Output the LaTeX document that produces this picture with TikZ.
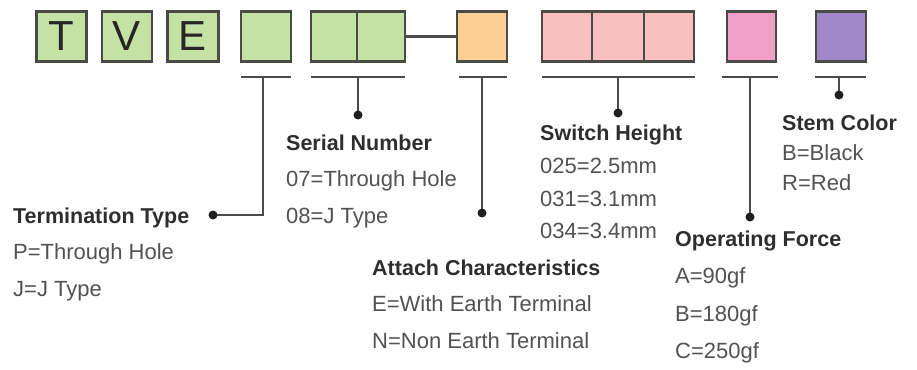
\documentclass[tikz,border=0pt]{standalone}
\usepackage{fontspec}
\setmainfont{Liberation Sans}
\definecolor{boxline}{RGB}{75,75,70}
\definecolor{leadgrey}{RGB}{75,75,75}
\definecolor{greenfill}{RGB}{196,226,164}
\definecolor{orangefill}{RGB}{251,208,146}
\definecolor{rosefill}{RGB}{248,192,192}
\definecolor{pinkfill}{RGB}{243,160,200}
\definecolor{violetfill}{RGB}{160,136,200}

\begin{document}
\begin{tikzpicture}[x=1pt,y=-1pt,
  keybox/.style={draw=boxline,line width=2.2pt,inner sep=0pt,minimum height=50pt,
    font=\fontsize{42}{42}\selectfont,text=black!85},
  leader/.style={draw=leadgrey,line width=2.4pt},
  head/.style={anchor=base west,inner sep=0pt,font=\bfseries\fontsize{21.5}{24}\selectfont,text=black!82},
  entry/.style={anchor=base west,inner sep=0pt,font=\fontsize{22}{24}\selectfont,text=black!68}]
\path[use as bounding box] (0,0) rectangle (917,369);
% code boxes
\node[keybox,fill=greenfill,minimum width=50pt] (bT) at (61.5,36.5) {T};
\node[keybox,fill=greenfill,minimum width=50pt] (bV) at (127,36.5) {V};
\node[keybox,fill=greenfill,minimum width=51pt] (bE) at (193,36.5) {E};
\node[keybox,fill=greenfill,minimum width=50pt] (bterm) at (266,36.5) {};
\node[keybox,fill=greenfill,minimum width=46pt] (bsera) at (334,36.5) {};
\node[keybox,fill=greenfill,minimum width=48pt] (bserb) at (381,36.5) {};
\node[keybox,fill=orangefill,minimum width=50pt] (batt) at (482,36.5) {};
\node[keybox,fill=rosefill,minimum width=50pt] (bhgta) at (567,36.5) {};
\node[keybox,fill=rosefill,minimum width=52pt] (bhgtb) at (618,36.5) {};
\node[keybox,fill=rosefill,minimum width=50pt] (bhgtc) at (669,36.5) {};
\node[keybox,fill=pinkfill,minimum width=49pt] (bforce) at (751.5,36.5) {};
\node[keybox,fill=violetfill,minimum width=50pt] (bstem) at (841,36.5) {};
\draw[leader] (bserb.east) -- (batt.west);
% underlines
\draw[leader] (241,77) -- (291,77);
\draw[leader] (311,77) -- (405,77);
\draw[leader] (459,77) -- (507,77);
\draw[leader] (542,77) -- (695,77);
\draw[leader] (722,77) -- (778,77);
\draw[leader] (815,77) -- (866,77);
% leader ends
\coordinate (uterm) at (263,77);
\coordinate (kterm) at (263,215);
\coordinate (dterm) at (213,215);
\coordinate (user) at (358,77);
\coordinate (dser) at (358,115);
\coordinate (uatt) at (482,77);
\coordinate (datt) at (482,213);
\coordinate (uhgt) at (618,77);
\coordinate (dhgt) at (618,113);
\coordinate (uforce) at (750,77);
\coordinate (dforce) at (750,217);
\coordinate (ustem) at (839,77);
\coordinate (dstem) at (839,95);
\draw[leader] (uterm) -- (kterm) -- (dterm);
\draw[leader] (user) -- (dser);
\draw[leader] (uatt) -- (datt);
\draw[leader] (uhgt) -- (dhgt);
\draw[leader] (uforce) -- (dforce);
\draw[leader] (ustem) -- (dstem);
\foreach \d in {dterm,dser,datt,dhgt,dforce,dstem}
  \fill[black!88] (\d) circle (4.5);
% labels
\node[head] (tterm) at (13,223) {Termination Type};
\node[entry] at (13,259) {P=Through Hole};
\node[entry] at (13,296) {J=J Type};
\node[head] (tser) at (286,150) {Serial Number};
\node[entry] at (286,186) {07=Through Hole};
\node[entry] at (286,223) {08=J Type};
\node[head] (tatt) at (372,275) {Attach Characteristics};
\node[entry] at (372,311) {E=With Earth Terminal};
\node[entry] at (372,348) {N=Non Earth Terminal};
\node[head] (thgt) at (540,140) {Switch Height};
\node[entry] at (540,173) {025=2.5mm};
\node[entry] at (540,206) {031=3.1mm};
\node[entry] at (540,238) {034=3.4mm};
\node[head] (tforce) at (675,246) {Operating Force};
\node[entry] at (675,283) {A=90gf};
\node[entry] at (675,321) {B=180gf};
\node[entry] at (675,358) {C=250gf};
\node[head] (tstem) at (782,130) {Stem Color};
\node[entry] at (782,160) {B=Black};
\node[entry] at (782,190) {R=Red};
\end{tikzpicture}
\end{document}
